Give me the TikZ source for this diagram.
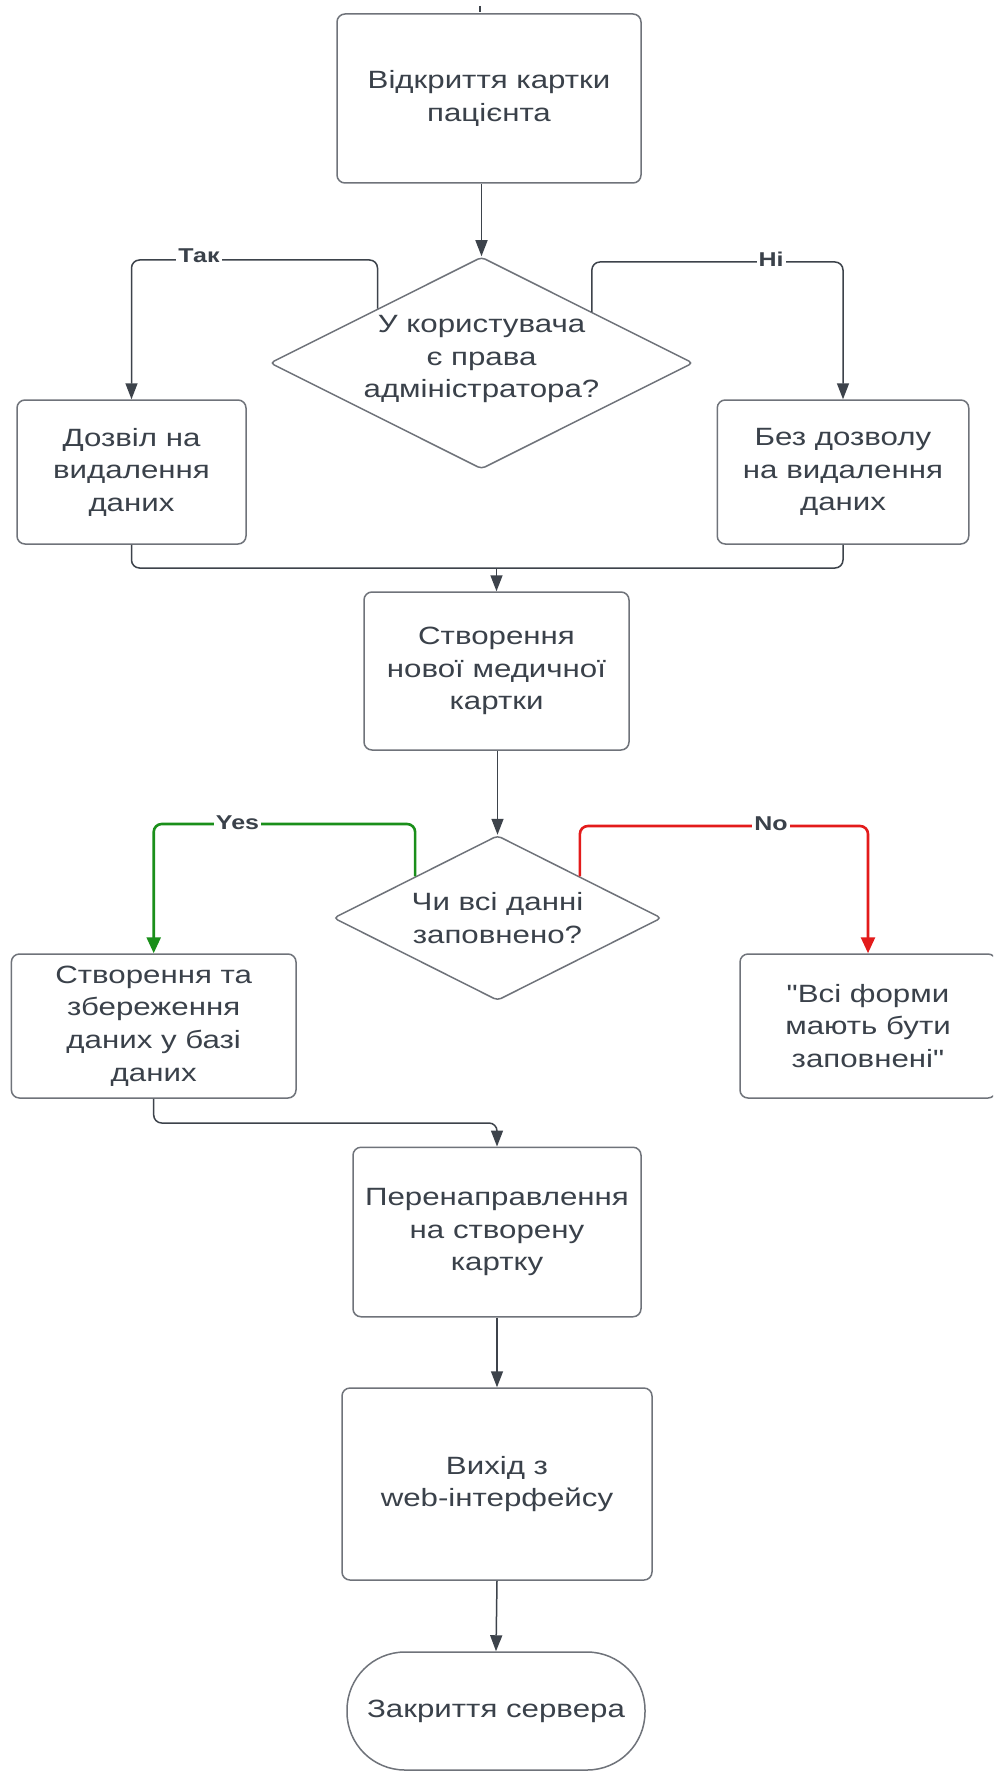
\documentclass[tikz,border=0pt]{standalone}
\usepackage{fontspec}
\setmainfont{Liberation Sans}[FakeStretch=1.25, Ligatures=TeXOff]
\usetikzlibrary{shapes.geometric,arrows.meta,calc}
\definecolor{txtc}{HTML}{3A414A}
\definecolor{bord}{HTML}{6F737A}
\definecolor{lnk}{HTML}{3D434B}
\definecolor{grn}{HTML}{1A8F1A}
\definecolor{rdc}{HTML}{E31B1B}
\newcommand\mainfs{\fontsize{12.5pt}{16.25pt}\selectfont}
\newcommand\lblfs{\fontsize{10pt}{12pt}\selectfont\bfseries}
\begin{document}
\begin{tikzpicture}[x=0.5pt,y=-0.5pt,
  box/.style={draw=bord, line width=0.75pt, rounded corners=4pt, fill=white, text=txtc, align=center, font=\mainfs, inner sep=2pt},
  dia/.style={diamond, draw=bord, line width=0.75pt, rounded corners=2pt, inner sep=0pt, fill=white},
  term/.style={draw=bord, line width=0.75pt, rounded corners=29pt, fill=white, text=txtc, align=center, font=\mainfs},
  txtn/.style={text=txtc, align=center, font=\mainfs, inner sep=0pt},
  conn/.style={draw=lnk, line width=0.75pt, rounded corners=4pt},
  arr/.style={conn, -{Triangle[length=8pt,width=6pt]}},
  garr/.style={draw=grn, line width=1.3pt, rounded corners=4pt, -{Triangle[length=8pt,width=7pt]}},
  rarr/.style={draw=rdc, line width=1.3pt, rounded corners=4pt, -{Triangle[length=8pt,width=7pt]}},
  lbl/.style={font=\lblfs, text=txtc, fill=white, inner sep=1pt}]
\useasboundingbox (0,0) rectangle (993,1771);
\clip (0,0) rectangle (993,1771);
\fill[white] (0,0) rectangle (993,1771);

% nodes
\node[box, minimum width=152pt, minimum height=84.5pt] (n1) at (489,98.5) {Відкриття картки\\пацієнта};
\node[dia, minimum width=211.5pt, minimum height=106pt] (d1) at (481.5,363) {};
\node[txtn] (d1t) at (481.5,359) {У користувача\\є права\\адміністратора?};
\node[box, minimum width=114.5pt, minimum height=72pt] (l1) at (131.5,472) {Дозвіл на\\видалення\\даних};
\node[box, minimum width=125.75pt, minimum height=72pt] (r1) at (843,472) {Без дозволу\\на видалення\\даних};
\node[box, minimum width=132.5pt, minimum height=79pt] (n2) at (496.5,671) {Створення\\нової медичної\\картки};
\node[dia, minimum width=164pt, minimum height=82.5pt] (d2) at (497.5,918) {};
\node[txtn] (d2t) at (497.5,918) {Чи всі данні\\заповнено?};
\node[box, minimum width=142.3pt, minimum height=72pt] (l2) at (153.7,1026) {Створення та\\збереження\\даних у базі\\даних};
\node[box, minimum width=128pt, minimum height=72pt] (r2) at (868,1026) {"Всі форми\\мають бути\\заповнені"};
\node[box, minimum width=144pt, minimum height=84.75pt] (n3) at (497,1232) {Перенаправлення\\на створену\\картку};
\node[box, minimum width=155pt, minimum height=96pt] (n4) at (497,1484) {Вихід з\\web-інтерфейсу};
\node[term, minimum width=149pt, minimum height=59pt] (t) at (496,1711) {Закриття сервера};

% helper coordinates
\coordinate (topa) at (480,6);
\coordinate (topb) at (480,12);
\coordinate (ytak) at (0,260);
\coordinate (yni) at (0,262);
\coordinate (ym1) at (0,568);
\coordinate (yyes) at (0,824);
\coordinate (yno) at (0,826);
\coordinate (ym2) at (0,1123);
\coordinate (mj) at (n2.north |- ym1);

% connectors
\draw[conn] (topa) -- (topb);
\draw[arr] (d1.north |- n1.south) -- (d1.north);
\draw[arr] ($(d1.north)!0.49!(d1.west)$) coordinate (s1) |- (l1.north |- ytak) -- (l1.north);
\draw[arr] ($(d1.north)!0.52!(d1.east)$) coordinate (s2) |- (r1.north |- yni) -- (r1.north);
\draw[conn] (l1.south) |- (r1.south |- ym1) -- (r1.south);
\draw[arr] (mj) -- (n2.north);
\draw[arr] (d2.north |- n2.south) -- (d2.north);
\draw[garr] ($(d2.north)!0.5!(d2.west)$) coordinate (s3) |- (l2.north |- yyes) -- (l2.north);
\draw[rarr] ($(d2.north)!0.5!(d2.east)$) coordinate (s4) |- (r2.north |- yno) -- (r2.north);
\draw[arr] (l2.south) |- (n3.north |- ym2) -- (n3.north);
\draw[arr] (n3.south) -- (n4.north);
\draw[arr] (n4.south) -- (t.north);

% labels
\node[lbl, anchor=base] (ltak) at (199,263) {Так};
\node[lbl, anchor=base] (lni) at (771,266) {Ні};
\node[lbl, anchor=base] (lyes) at (237.5,829) {Yes};
\node[lbl, anchor=base] (lno) at (771,830) {No};
\end{tikzpicture}
\end{document}
